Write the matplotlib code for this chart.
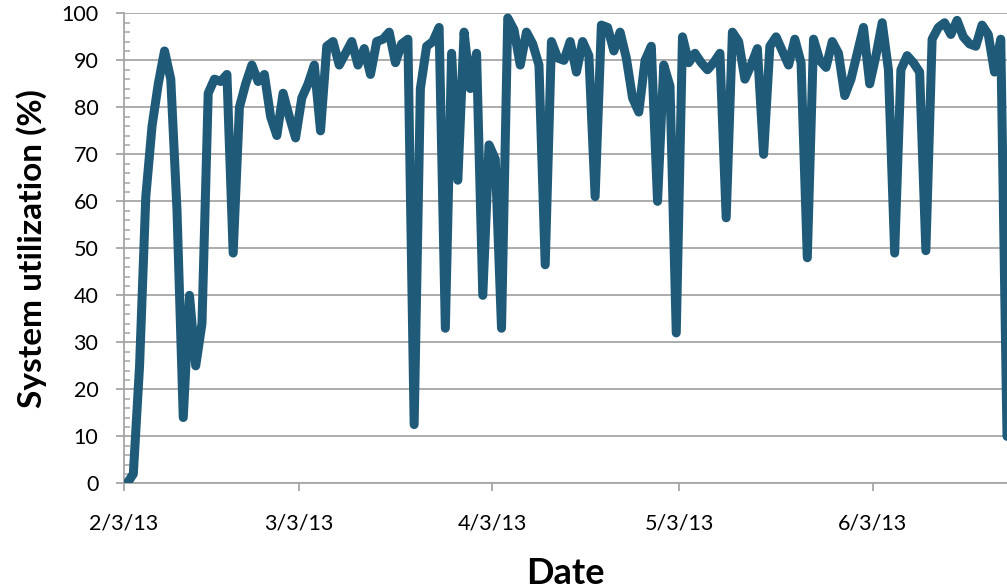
import pandas as pd
import matplotlib
matplotlib.use("Agg")
import matplotlib.pyplot as plt
import matplotlib.dates as mdates
from matplotlib.ticker import MultipleLocator

# daily readings (taken at noon), starting 2/3/13
start = "2013-02-03 12:00"
util = [0, 2, 25, 61, 76, 85, 92, 86, 58, 14,
        40, 25, 34, 83, 86, 85.5, 87, 49, 80, 85,
        89, 85.5, 87, 78, 74, 83, 78, 73.5, 82, 85,
        89, 75, 93, 94, 89, 91.5, 94, 89, 92.5, 87,
        94, 94.5, 96, 89.5, 93.5, 94.5, 12.5, 84, 93, 94,
        97, 33, 91.5, 64.5, 96, 84, 91.5, 40, 72, 69,
        33, 99, 96.5, 89, 96, 93.5, 89, 46.5, 94, 90.5,
        90, 94, 87.5, 94, 91, 61, 97.5, 97, 92, 96,
        90.5, 82, 79, 90, 93, 60, 89, 84.5, 32, 95,
        89.5, 91.5, 89.5, 88, 89.5, 91.5, 56.5, 96, 94, 86,
        89, 92.5, 70, 93, 95, 92, 89, 94.5, 89.5, 48,
        94.5, 90, 88.5, 94, 91.5, 82.5, 86, 91.5, 97, 85,
        91, 98, 88, 49, 88, 91, 89.5, 87.5, 49.5, 94.5,
        97, 98, 95.5, 98.5, 95, 93.5, 93, 97.5, 95.5, 87.5,
        94.5, 10]
dates = pd.date_range(start, periods=len(util), freq="D")
tick_dates = pd.to_datetime(["2013-02-03", "2013-03-03", "2013-04-03", "2013-05-03", "2013-06-03"])

line_col = "#1F5B78"
grid_col = "#A6A6A6"

plt.rcParams["font.family"] = ["Lato", "DejaVu Sans"]

fig = plt.figure(figsize=(10.07, 5.88), dpi=100)
ax = fig.add_axes([0.1231, 0.178, 0.8769, 0.7993])

ax.plot(dates, util, color=line_col, linewidth=6.5,
        solid_joinstyle="round", solid_capstyle="round", zorder=3)

ax.set_ylim(0, 100)
ax.set_xlim(pd.Timestamp("2013-02-03"), pd.Timestamp("2013-02-03") + pd.Timedelta(days=141.5))

ax.yaxis.set_major_locator(MultipleLocator(10))
ax.yaxis.set_minor_locator(MultipleLocator(2))
ax.set_xticks(tick_dates)
ax.xaxis.set_major_formatter(plt.FuncFormatter(
    lambda v, p: (lambda d: f"{d.month}/{d.day}/{d.year % 100}")(mdates.num2date(v))))

ax.grid(axis="y", color=grid_col, linewidth=1.3, zorder=0)
for s in ["top", "right"]:
    ax.spines[s].set_visible(False)
for s in ["left", "bottom"]:
    ax.spines[s].set_color(grid_col)
    ax.spines[s].set_linewidth(1.3)

ax.tick_params(axis="y", which="major", direction="out", length=6, width=1.3,
               color=grid_col, labelsize=15.5, pad=12.5)
ax.tick_params(axis="y", which="minor", direction="in", length=4.5, width=1.1, color=grid_col)
ax.tick_params(axis="x", which="major", direction="out", length=5.5, width=1.3,
               color=grid_col, labelsize=15.5, pad=16)

ax.set_xlabel("Date", fontsize=26, fontweight="bold", labelpad=17)
ax.set_ylabel("System utilization (%)", fontsize=24, fontweight="bold", labelpad=10)

fig.savefig("out.png", dpi=100)
